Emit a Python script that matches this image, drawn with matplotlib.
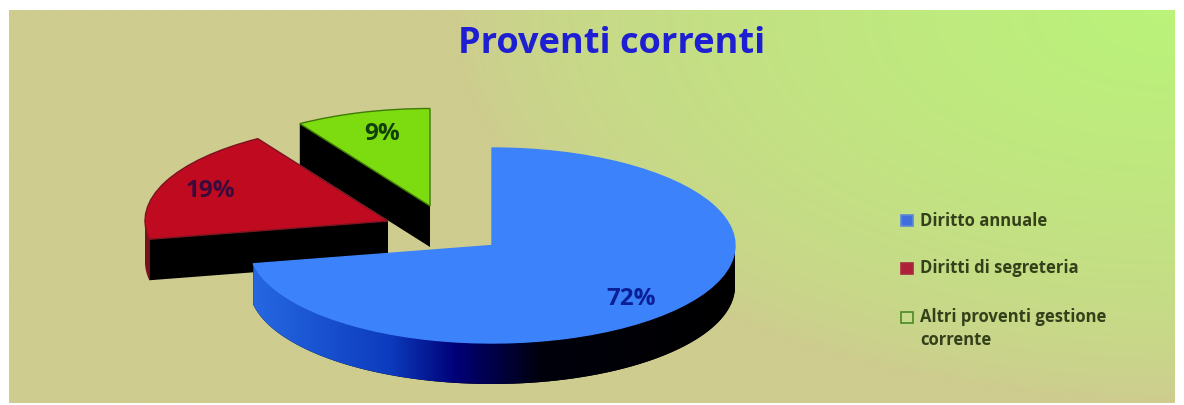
import numpy as np
import matplotlib
matplotlib.use("Agg")
import matplotlib.pyplot as plt
from matplotlib.patches import Polygon, Rectangle
from matplotlib.transforms import Affine2D

# Chart content
title = "Proventi correnti"
categories = ["Diritto annuale", "Diritti di segreteria", "Altri proventi gestione\ncorrente"]
shares = [72, 19, 9]

# Styling and layout, in pixels from the top-left corner
W, H = 1184, 405
panel = (9, 10, 1175, 403)
top_colors = ["#3C82FA", "#C00A20", "#7DDC0F"]
edge_colors = ["#3C82FA", "#7A1420", "#3F7A08"]
side_colors = ["#000000", "#7A1020", "#000000"]
centers = [(492, 245.5), (388, 221), (430, 206)]
label_pos = [(631, 299), (210, 191), (382, 134)]
label_colors = ["#0A1E96", "#3A0A3C", "#12400A"]
rx, ry, depth = 243, 97.5, 41
legend_y = [220.5, 268, 317.5]
legend_face = ["#3F6FDC", "#AE2038", "#C6DC8C"]
legend_edge = ["#5C88D8", "#A82A40", "#4C8A24"]

fig = plt.figure(figsize=(W / 100, H / 100), dpi=100, facecolor="white")
ax = fig.add_axes([0, 0, 1, 1])

# The top faces come from the pie layout, then get squashed and moved apart
wedges, _ = ax.pie(shares, startangle=90, counterclock=False, colors=top_colors, radius=1)
ax.set_aspect("auto")
ax.set_xlim(0, W)
ax.set_ylim(H, 0)
ax.axis("off")

# Sloped background fading from tan to bright green toward the upper right
x0, y0, x1, y1 = panel
xx, yy = np.meshgrid(np.linspace(x0, x1, 300), np.linspace(y0, y1, 120))
d = np.sqrt(((x1 - xx) / 720) ** 2 + ((yy - y0) / 390) ** 2)
t = np.clip(1 - d, 0, 1)[..., None] ** 0.65
tan = np.array([206, 204, 143]) / 255
lime = np.array([186, 243, 122]) / 255
ax.imshow(tan + (lime - tan) * t, extent=(x0, x1, y1, y0), aspect="auto", zorder=0,
          interpolation="bilinear")


def ellipse_xy(center, deg):
    a = np.radians(deg)
    return center[0] + rx * np.cos(a), center[1] - ry * np.sin(a)


def outer_band(center, a_from, a_to):
    """Rim of the slice between two angles, as a closed outline."""
    ang = np.linspace(a_from, a_to, 160)
    xs, ys = ellipse_xy(center, ang)
    return np.r_[np.c_[xs, ys], np.c_[xs[::-1], ys[::-1] + depth]]


# Blue-to-black shading along the rim of the large slice
rim_stops_x = [255, 390, 457, 540, 735]
rim_stops_rgb = np.array([[38, 104, 226], [12, 60, 190], [0, 0, 118], [0, 0, 12], [0, 0, 0]]) / 255

for i in (2, 1, 0):
    w = wedges[i]
    z = 2 + 2 * (2 - i)
    c = centers[i]
    sweep = w.theta2 - w.theta1
    t1 = w.theta1 % 360
    t2 = t1 + sweep

    # Rim: only the part facing the viewer, in the lower half of the ellipse
    a, b = max(t1, 180), min(t2, 360)
    if b > a:
        outline = Polygon(outer_band(c, a, b), closed=True, facecolor=side_colors[i],
                          edgecolor="none", zorder=z)
        ax.add_patch(outline)
        if i == 0:
            gx = np.linspace(rim_stops_x[0], rim_stops_x[-1], 480)
            rgb = np.stack([np.interp(gx, rim_stops_x, rim_stops_rgb[:, k]) for k in range(3)], -1)
            im = ax.imshow(rgb[None, :, :], aspect="auto", zorder=z,
                           extent=(rim_stops_x[0] - 3, rim_stops_x[-1] + 3, 400, 240))
            im.set_clip_path(outline)

    # Black cut face on the radial edge that looks toward the viewer
    if i in (1, 2):
        ex, ey = ellipse_xy(c, t2)
        ax.add_patch(Polygon([c, (ex, ey), (ex, ey + depth), (c[0], c[1] + depth)], closed=True,
                             facecolor="black", edgecolor="none", zorder=z))

    # Top face
    w.set_transform(Affine2D().scale(rx, -ry).translate(*c) + ax.transData)
    w.set_edgecolor(edge_colors[i])
    w.set_linewidth(1.0)
    w.set_zorder(z + 1)

    ax.text(*label_pos[i], f"{shares[i]}%", ha="center", va="center", family="Open Sans",
            fontweight="bold", fontsize=17.5, color=label_colors[i], zorder=10)

ax.set_xlim(0, W)
ax.set_ylim(H, 0)

ax.text(612, 44, title, ha="center", va="center", family="Open Sans", fontweight="bold",
        fontsize=26, color="#1E1ED2", zorder=10)

# Legend
for name, y, fc, ec in zip(categories, legend_y, legend_face, legend_edge):
    ax.add_patch(Rectangle((901, y - 5.5), 12, 11, facecolor=fc, edgecolor=ec, linewidth=1.2, zorder=10))
    ax.text(920, y - 9, name, ha="left", va="top", family="Open Sans", fontweight="bold",
            fontsize=12, color="#34401A", linespacing=1.3, zorder=10)

fig.savefig("out.png", dpi=100, facecolor="white")
